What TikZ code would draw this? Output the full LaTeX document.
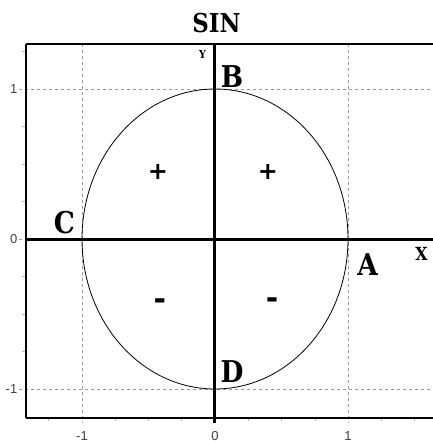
\documentclass[tikz,border=0pt]{standalone}
\usepackage{fontspec}
\newfontfamily\labfont[FakeStretch=0.88]{DejaVu Serif}
\newfontfamily\signfont{DejaVu Sans}
\newfontfamily\tickfont{Liberation Sans}

\begin{document}
\begin{tikzpicture}[x=133pt,y=150pt,
		gridline/.style={gray!80,dash pattern=on 3pt off 3pt,line width=0.6pt},
		minortick/.style={gray!60,line width=0.5pt},
		ptlab/.style={inner sep=0,font=\labfont\bfseries\fontsize{30}{30}\selectfont},
		axlab/.style={inner sep=0,font=\labfont\bfseries\fontsize{18}{18}\selectfont},
		signtxt/.style={inner sep=0,font=\signfont\bfseries\fontsize{24}{24}\selectfont},
		ticklab/.style={inner sep=0,font=\tickfont\fontsize{13}{13}\selectfont,text=black!75}]
	\useasboundingbox (-1.6165,-1.3533) rectangle (1.6316,1.5933);
	% grid and ticks
	\foreach \x in {-1,1}{
		\draw[gridline] (\x,1.3)--(\x,-1.225);
		\node[ticklab] (bx\x) at (\x,-1.313) {\x};
	}
	\foreach \y in {-1,0,1}{
		\draw[gridline] (-1.47,\y)--(1.64,\y);
		\node[ticklab,anchor=east] (ly\y) at (-1.485,\y) {\y};
	}
	\node[ticklab] (bx0) at (0,-1.313) {0};
	\foreach \t in {-0.75,-0.5,-0.25,0.25,0.5,0.75,1.25}
		\draw[minortick] (-1.421,\t)--(-1.45,\t);
	\foreach \t in {-1.25,-0.75,-0.5,-0.25,0.25,0.5,0.75,1.25,1.5}
		\draw[minortick] (\t,-1.193)--(\t,-1.215);
	% unit circle
	\draw[line width=0.8pt] (0,0) ellipse [x radius=1,y radius=1];
	% frame
	\draw[line width=1.8pt] (-1.421,1.3)--(-1.421,-1.193);
	\draw[line width=1.2pt] (-1.421,1.3)--(1.64,1.3) (-1.421,-1.193)--(1.64,-1.193);
	% axes
	\draw[line width=3pt] (-1.421,0)--(1.64,0) (0,1.3)--(0,-1.227);
	% labels
	\node[inner sep=0,font=\labfont\bfseries\fontsize{26}{26}\selectfont] (title) at (0.011,1.44) {SIN};
	\node[axlab] (xl) at (1.553,-0.097) {X};
	\node[axlab,font=\labfont\bfseries\fontsize{11}{11}\selectfont] (yl) at (-0.094,1.233) {Y};
	\node[ptlab] (A) at (1.147,-0.17) {A};
	\node[ptlab] (B) at (0.128,1.083) {B};
	\node[ptlab] (C) at (-1.132,0.11) {C};
	\node[ptlab] (D) at (0.128,-0.883) {D};
	\node[signtxt] (p1) at (-0.429,0.447) {+};
	\node[signtxt] (p2) at (0.398,0.447) {+};
	\node[signtxt,font=\signfont\bfseries\fontsize{30}{30}\selectfont] (m3) at (-0.414,-0.433) {-};
	\node[signtxt,font=\signfont\bfseries\fontsize{30}{30}\selectfont] (m4) at (0.429,-0.427) {-};
\end{tikzpicture}
\end{document}
